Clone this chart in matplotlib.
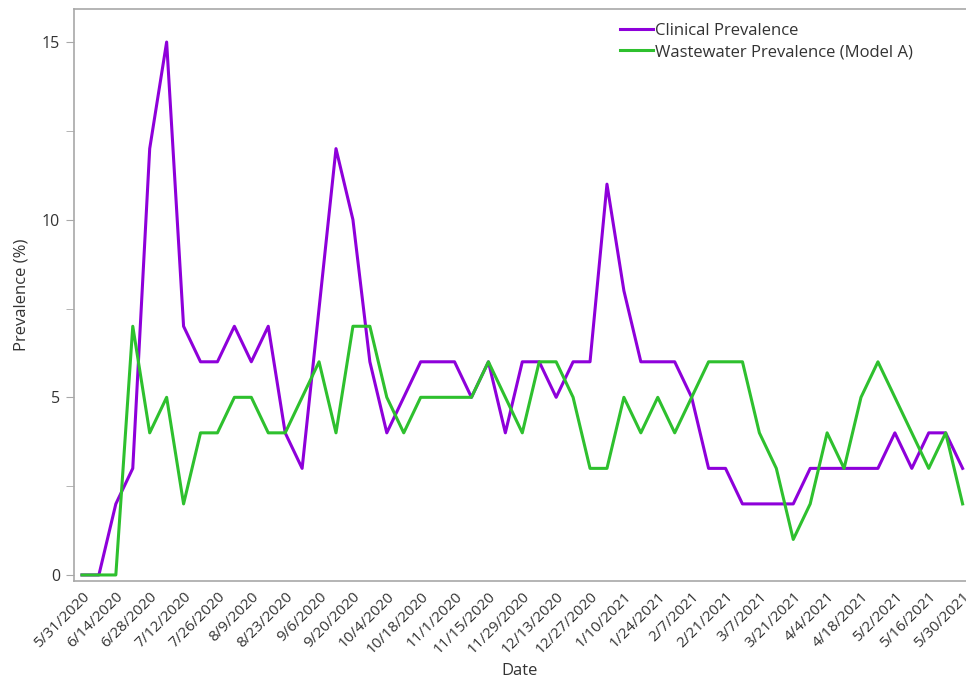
import matplotlib
matplotlib.use("Agg")
import matplotlib.pyplot as plt
from matplotlib.ticker import MultipleLocator
import numpy as np
import pandas as pd

plt.rcParams['font.family'] = ['Open Sans', 'DejaVu Sans']

# weekly samples, 5/31/2020 .. 5/30/2021
dates = pd.date_range("2020-05-31", "2021-05-30", freq="7D")

clinical = [0, 0, 2, 3, 12, 15, 7, 6, 6, 7, 6, 7, 4, 3, 7.5, 12, 10, 6,
            4, 5, 6, 6, 6, 5, 6, 4, 6, 6, 5, 6, 6, 11, 8, 6, 6, 6, 5, 3,
            3, 2, 2, 2, 2, 3, 3, 3, 3, 3, 4, 3, 4, 4, 3]

wastewater = [0, 0, 0, 7, 4, 5, 2, 4, 4, 5, 5, 4, 4, 5, 6, 4, 7, 7,
              5, 4, 5, 5, 5, 5, 6, 5, 4, 6, 6, 5, 3, 3, 5, 4, 5, 4, 5, 6,
              6, 6, 4, 3, 1, 2, 4, 3, 5, 6, 5, 4, 3, 4, 2]

tick_labels = [f"{d.month}/{d.day}/{d.year}" for d in dates[::2]]

purple = '#8E00DA'
green = '#2EC02E'
frame = '#A8A8A8'
text_col = '#333333'

fig = plt.figure(figsize=(9.66, 6.8), dpi=100)
ax = fig.add_axes([74 / 966, 1 - 581 / 680, (966 - 74) / 966, (581 - 9) / 680])

x = np.arange(len(dates))
ax.plot(x, clinical, color=purple, lw=2.2, label='Clinical Prevalence')
ax.plot(x, wastewater, color=green, lw=2.2, label='Wastewater Prevalence (Model A)')

ax.set_xlim(-0.47, 52.2)
ax.set_ylim(-0.17, 15.93)

ax.set_xticks(x[::2])
ax.set_xticklabels(tick_labels, rotation=45, ha='right', rotation_mode='anchor',
                   fontsize=11, color=text_col)
ax.tick_params(axis='x', length=0, pad=6)

ax.yaxis.set_major_locator(MultipleLocator(5))
ax.yaxis.set_minor_locator(MultipleLocator(2.5))
ax.tick_params(axis='y', which='both', length=6, color=frame, labelsize=11.5,
               labelcolor=text_col, pad=4)

for side in ['left', 'bottom', 'top']:
    ax.spines[side].set_color(frame)
    ax.spines[side].set_linewidth(1.2)
ax.spines['right'].set_visible(False)

ax.set_xlabel('Date', fontsize=12, color=text_col, labelpad=4)
ax.set_ylabel('Prevalence (%)', fontsize=12, color=text_col, labelpad=9)

ax.legend(loc='upper right', bbox_to_anchor=(0.941, 0.975), frameon=False,
          borderaxespad=0, borderpad=0, fontsize=12, handlelength=2.0,
          handletextpad=0.15, labelspacing=0.3, labelcolor=text_col)

fig.savefig('out.png', dpi=100)
